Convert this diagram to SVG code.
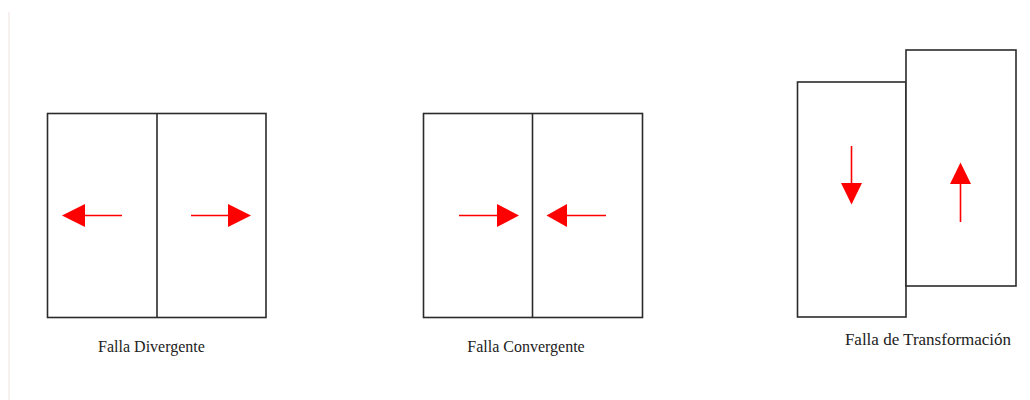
<svg xmlns="http://www.w3.org/2000/svg" width="1030" height="400" viewBox="0 0 1030 400">
<style>
.box{fill:#fff;stroke:#2b2b2b;stroke-width:1.6}
.shaft{stroke:#f00;stroke-width:1.6;fill:none}
.head{fill:#f00;stroke:none}
.lbl{font-family:"Liberation Serif","Times New Roman",serif;font-size:16px;fill:#222;text-anchor:middle}
</style>
<rect width="1030" height="400" fill="#fff"/>
<line x1="9" y1="12" x2="9" y2="400" stroke="#f6f1ef" stroke-width="2"/>
<g id="divergente">
<rect class="box" x="47.5" y="113.5" width="218.5" height="204"/>
<line x1="157" y1="113.5" x2="157" y2="317.5" stroke="#2b2b2b" stroke-width="1.6"/>
<line class="shaft" x1="84" y1="215.5" x2="122" y2="215.5"/>
<polygon class="head" points="62,215.5 85,204 85,227"/>
<line class="shaft" x1="191" y1="215.5" x2="229" y2="215.5"/>
<polygon class="head" points="251,215.5 228,204 228,227"/>
<text class="lbl" x="151.5" y="352">Falla Divergente</text>
</g>
<g id="convergente">
<rect class="box" x="423.5" y="113.5" width="219" height="204"/>
<line x1="532.5" y1="113.5" x2="532.5" y2="317.5" stroke="#2b2b2b" stroke-width="1.6"/>
<line class="shaft" x1="459" y1="215.5" x2="498" y2="215.5"/>
<polygon class="head" points="519,215.5 497,204 497,227"/>
<line class="shaft" x1="566" y1="215.5" x2="606" y2="215.5"/>
<polygon class="head" points="546.5,215.5 567,204 567,227"/>
<text class="lbl" x="526" y="351.5">Falla Convergente</text>
</g>
<g id="transformacion">
<rect class="box" x="797.5" y="82" width="108.5" height="235"/>
<rect class="box" x="906" y="50" width="110" height="236"/>
<line class="shaft" x1="851.5" y1="146" x2="851.5" y2="184"/>
<polygon class="head" points="851.5,204.5 841,183 862,183"/>
<line class="shaft" x1="960.5" y1="183" x2="960.5" y2="222"/>
<polygon class="head" points="960.5,162.5 950,184 971,184"/>
<text class="lbl" x="928" y="345" style="font-size:17px">Falla de Transformación</text>
</g>
</svg>
